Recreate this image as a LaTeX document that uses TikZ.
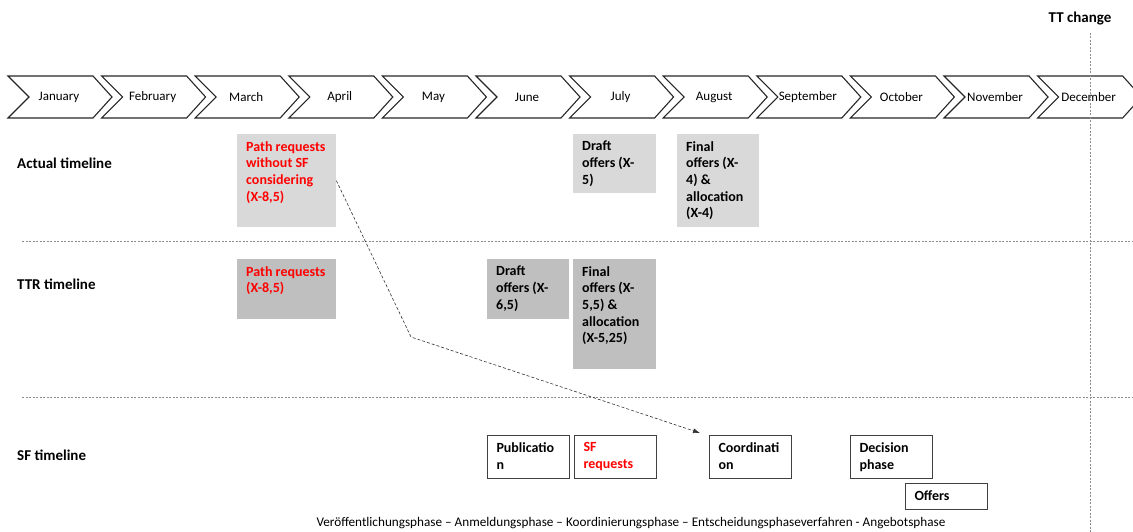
\documentclass[tikz,border=0pt]{standalone}
\usepackage{fontspec}
\setmainfont{Carlito}
\usetikzlibrary{arrows.meta}

\definecolor{lightcell}{HTML}{D9D9D9}
\definecolor{darkcell}{HTML}{BFBFBF}
\definecolor{reqred}{HTML}{FF0000}
\definecolor{sfborder}{HTML}{404040}
\definecolor{sepgray}{HTML}{8C8C8C}

% cell body: width, height, text (top aligned)
\newcommand{\celltext}[3]{\parbox[c][#2pt][t]{#1pt}{#3}}

\begin{document}
\begin{tikzpicture}[x=1pt,y=-1pt,
	cell/.style={anchor=north west, inner xsep=9pt, inner ysep=7pt,
		font=\bfseries\fontsize{14}{16.7}\selectfont},
	actual/.style={cell, fill=lightcell},
	ttr/.style={cell, fill=darkcell},
	sfbox/.style={cell, fill=white, draw=sfborder, line width=1pt},
	rowlabel/.style={anchor=west, inner xsep=0pt, font=\bfseries\fontsize{15}{17}\selectfont},
	monthlabel/.style={font=\fontsize{13}{15}\selectfont},
	separator/.style={sepgray, line width=0.6pt, dash pattern=on 2pt off 1.5pt}
	]
\useasboundingbox (0,0) rectangle (1133,532);

% month chevrons
\foreach \m [count=\i from 0] in {January,February,March,April,May,June,July,August,September,October,November,December}
{
	\pgfmathsetmacro{\xl}{8+93.6*\i}
	\draw [line width=1.1pt, draw=black!85] (\xl,76) -- ++(85,0) -- ++(19,21) -- ++(-19,21) -- ++(-85,0) -- ++(21,-21) -- cycle;
	\node [monthlabel] (month\i) at (\xl+51,97) {\m};
}

% TT change
\node [font=\bfseries\fontsize{15}{17}\selectfont] (ttchange) at (1080,19) {TT change};
\draw [separator] (1090,33) -- (1090,532);

% row separators
\draw [separator] (22,241) -- (1133,241);
\draw [separator] (22,397) -- (1133,397);

% row labels
\node [rowlabel] (actuallbl) at (17,163) {Actual timeline};
\node [rowlabel] (ttrlbl) at (17,284) {TTR timeline};
\node [rowlabel] (sflbl) at (17,455) {SF timeline};

% actual timeline
\node [actual, text=reqred] (preq) at (237,134) {\celltext{81}{79}{Path requests\\without SF\\considering\\(X-8,5)}};
\node [actual] (draft) at (573,134) {\celltext{65}{45}{Draft\\offers (X-\\5)}};
\node [actual] (final) at (677,134) {\celltext{64}{79}{Final\\offers (X-\\4) \&\\allocation\\(X-4)}};

% TTR timeline
\node [ttr, text=reqred] (ttrpreq) at (237,259) {\celltext{81}{46}{Path requests\\(X-8,5)}};
\node [ttr] (ttrdraft) at (487,259) {\celltext{64}{46}{Draft\\offers (X-\\6,5)}};
\node [ttr] (ttrfinal) at (573,259) {\celltext{65}{96}{Final\\offers (X-\\5,5) \&\\allocation\\(X-5,25)}};

% SF timeline
\node [sfbox] (publication) at (487,435) {\celltext{64}{29}{Publicatio\\n}};
\node [sfbox, text=reqred] (sfreq) at (574,435) {\celltext{64}{29}{SF\\requests}};
\node [sfbox] (coordination) at (709,435) {\celltext{64}{29}{Coordinati\\on}};
\node [sfbox] (decision) at (850,435) {\celltext{64}{29}{Decision\\phase}};
\node [sfbox] (offers) at (905,483) {\celltext{64}{12}{Offers}};

% shift of the path requests
\coordinate (bend) at (411,337);
\draw [line width=0.6pt, draw=black!80, dashed, dash pattern=on 3pt off 2pt, -{Latex[length=7pt,width=5pt]}]
	(preq.east) -- (bend) -- ([xshift=-9pt,yshift=2pt]coordination.north west);

% caption
\node [font=\fontsize{13.2}{15}\selectfont] (caption) at (631,523) {Veröffentlichungsphase – Anmeldungsphase – Koordinierungsphase – Entscheidungsphaseverfahren - Angebotsphase};
\end{tikzpicture}
\end{document}
